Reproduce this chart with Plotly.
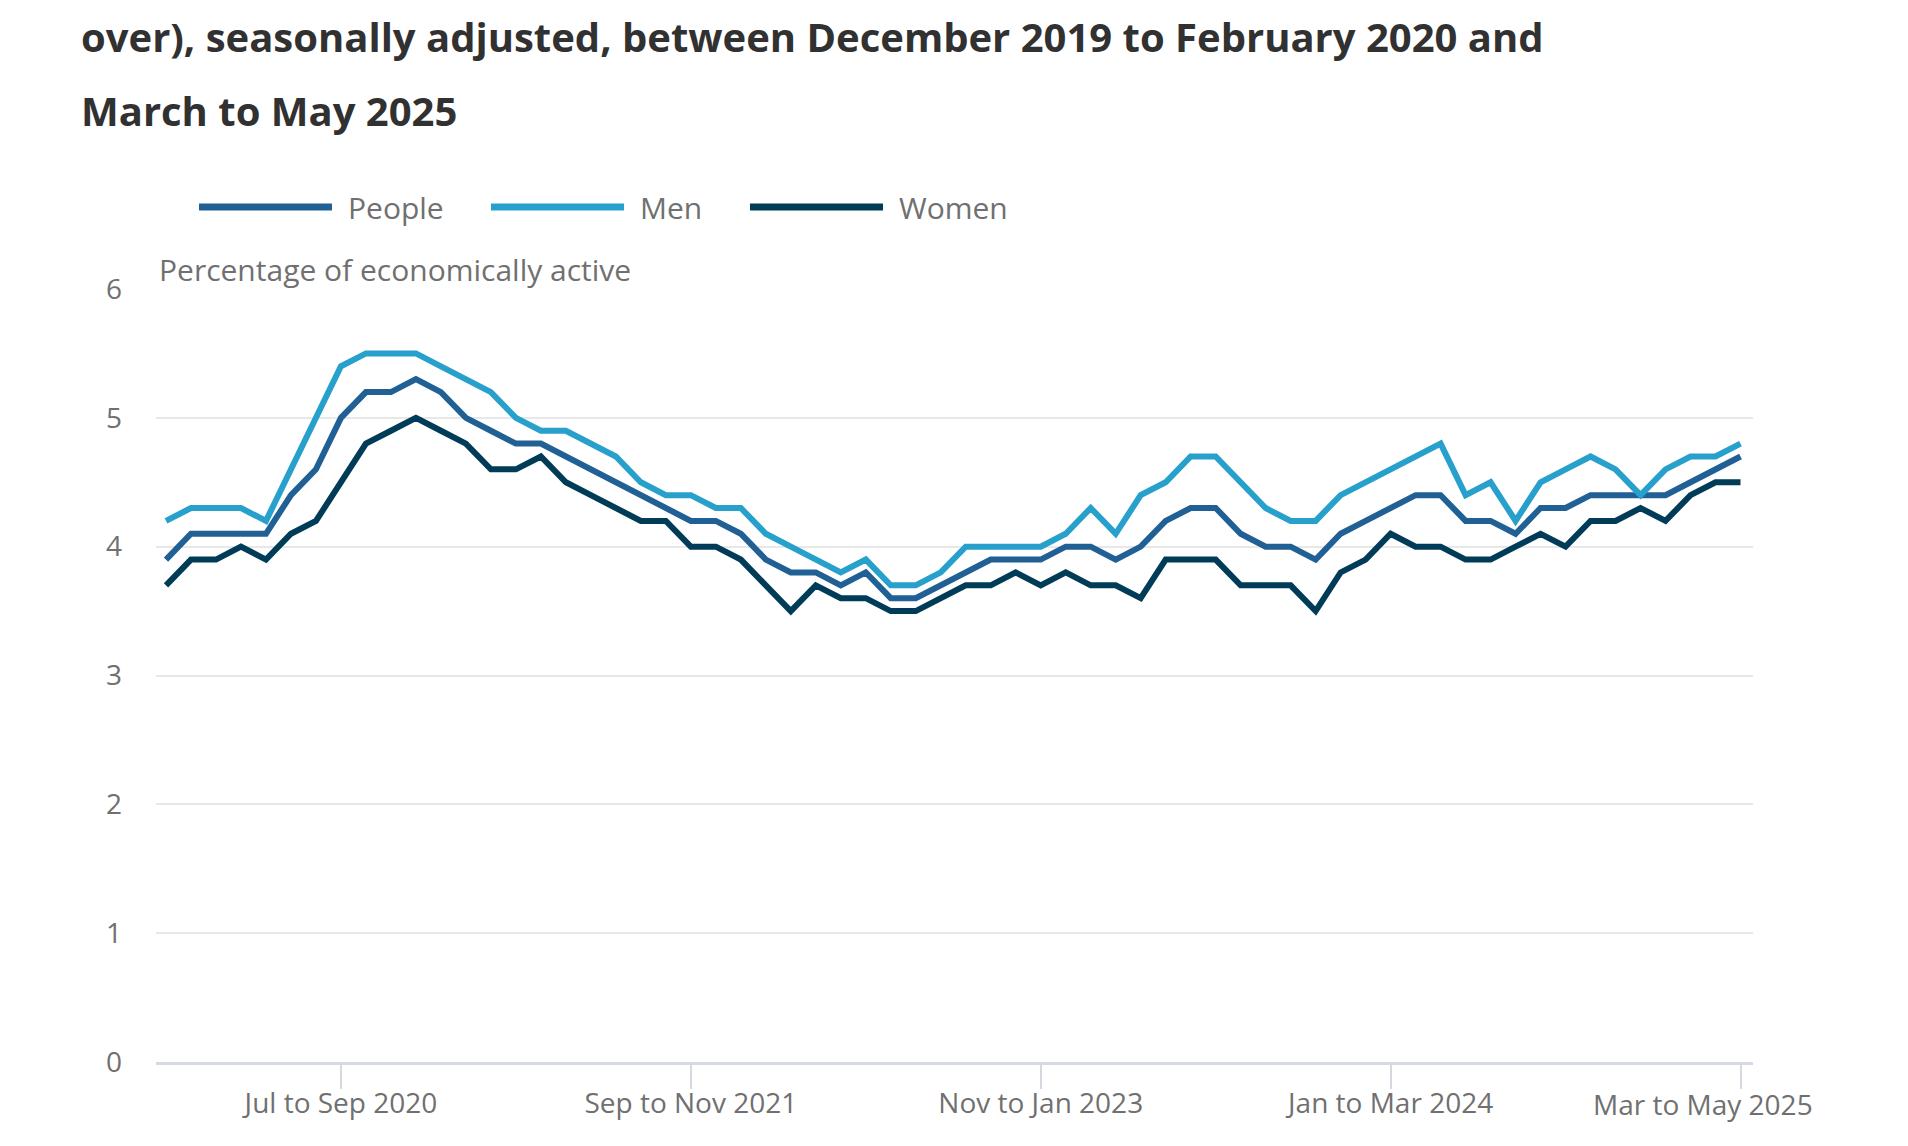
import plotly.graph_objects as go

# rolling three-month periods, Dec to Feb 2020 ... Mar to May 2025
MONTHS = ["Jan", "Feb", "Mar", "Apr", "May", "Jun",
          "Jul", "Aug", "Sep", "Oct", "Nov", "Dec"]
periods = []
for k in range(64):
    end = 1 + k
    periods.append(f"{MONTHS[(end - 2) % 12]} to {MONTHS[end % 12]} {2020 + end // 12}")

tick_labels = ["Jul to Sep 2020", "Sep to Nov 2021", "Nov to Jan 2023",
               "Jan to Mar 2024", "Mar to May 2025"]

people = [3.9, 4.1, 4.1, 4.1, 4.1, 4.4, 4.6, 5.0, 5.2, 5.2, 5.3, 5.2, 5.0, 4.9, 4.8, 4.8, 4.7,
          4.6, 4.5, 4.4, 4.3, 4.2, 4.2, 4.1, 3.9, 3.8, 3.8, 3.7, 3.8, 3.6, 3.6, 3.7,
          3.8, 3.9, 3.9, 3.9, 4.0, 4.0, 3.9, 4.0, 4.2, 4.3, 4.3, 4.1, 4.0, 4.0, 3.9, 4.1,
          4.2, 4.3, 4.4, 4.4, 4.2, 4.2, 4.1, 4.3, 4.3, 4.4, 4.4, 4.4, 4.4, 4.5, 4.6, 4.7]

men = [4.2, 4.3, 4.3, 4.3, 4.2, 4.6, 5.0, 5.4, 5.5, 5.5, 5.5, 5.4, 5.3, 5.2, 5.0, 4.9, 4.9,
       4.8, 4.7, 4.5, 4.4, 4.4, 4.3, 4.3, 4.1, 4.0, 3.9, 3.8, 3.9, 3.7, 3.7, 3.8,
       4.0, 4.0, 4.0, 4.0, 4.1, 4.3, 4.1, 4.4, 4.5, 4.7, 4.7, 4.5, 4.3, 4.2, 4.2, 4.4,
       4.5, 4.6, 4.7, 4.8, 4.4, 4.5, 4.2, 4.5, 4.6, 4.7, 4.6, 4.4, 4.6, 4.7, 4.7, 4.8]

women = [3.7, 3.9, 3.9, 4.0, 3.9, 4.1, 4.2, 4.5, 4.8, 4.9, 5.0, 4.9, 4.8, 4.6, 4.6, 4.7, 4.5,
         4.4, 4.3, 4.2, 4.2, 4.0, 4.0, 3.9, 3.7, 3.5, 3.7, 3.6, 3.6, 3.5, 3.5, 3.6,
         3.7, 3.7, 3.8, 3.7, 3.8, 3.7, 3.7, 3.6, 3.9, 3.9, 3.9, 3.7, 3.7, 3.7, 3.5, 3.8,
         3.9, 4.1, 4.0, 4.0, 3.9, 3.9, 4.0, 4.1, 4.0, 4.2, 4.2, 4.3, 4.2, 4.4, 4.5, 4.5]

series = [("People", people, "#206095"),
          ("Men", men, "#27a0cc"),
          ("Women", women, "#003c57")]

# the page body has an 8px margin, so the figure is drawn 8px in from the corner
OFF = 8
W, H = 1908 - 2 * OFF, 1146 - 2 * OFF
# plot area in page pixels: x 156..1753, y 289..1062
L, T = 156 - OFF, 289 - OFF
R, B = W - (1753 - OFF), H - (1062 - OFF)
FONT = "Open Sans"
GREY = "#707070"


def px_x(x):
    # page pixel -> paper fraction
    return (x - OFF - L) / (W - L - R)


def px_y(y):
    return (H - B - (y - OFF)) / (H - T - B)


fig = go.Figure()
for name, vals, colour in series:
    fig.add_trace(go.Scatter(x=periods, y=vals, mode="lines", name=name,
                             line=dict(color=colour, width=6)))

annotations = [
    dict(text="<b>over), seasonally adjusted, between December 2019 to February 2020 and</b>",
         x=px_x(79), y=px_y(36), font=dict(size=40, color="#323132")),
    dict(text="<b>March to May 2025</b>",
         x=px_x(79), y=px_y(110), font=dict(size=40, color="#323132")),
    dict(text="Percentage of economically active",
         x=px_x(157), y=px_y(270), font=dict(size=30, color=GREY)),
]

# hand-drawn legend with long line keys
shapes = []
legend_items = [(199, 346), (491, 638), (750, 897)]
for (x0, tx), (name, vals, colour) in zip(legend_items, series):
    shapes.append(dict(type="line", xref="paper", yref="paper",
                       x0=px_x(x0), x1=px_x(x0 + 133), y0=px_y(207), y1=px_y(207),
                       line=dict(color=colour, width=7)))
    annotations.append(dict(text=name, x=px_x(tx), y=px_y(208),
                            font=dict(size=30, color=GREY)))

# last tick label is pulled inside the chart edge, as in the original
tick_text = tick_labels[:-1] + [""]
annotations.append(dict(text=tick_labels[-1], x=px_x(1815), y=px_y(1104),
                        font=dict(size=28, color=GREY)))

for a in annotations:
    a.update(xref="paper", yref="paper", xanchor="left", yanchor="middle", showarrow=False)
annotations[-1]["xanchor"] = "right"

fig.update_layout(
    width=W, height=H,
    margin=dict(l=L, r=R, t=T, b=B),
    paper_bgcolor="white", plot_bgcolor="white",
    font=dict(family=FONT, color=GREY),
    showlegend=False,
    annotations=annotations,
    shapes=shapes,
    xaxis=dict(type="category", range=[-0.4, 63.5],
               tickmode="array", tickvals=tick_labels, ticktext=tick_text,
               ticks="outside", ticklen=24, tickwidth=1.5, tickcolor="#d5d8de",
               ticklabelstandoff=-10,
               showline=True, linecolor="#d5d9e3", linewidth=3,
               showgrid=False, zeroline=False,
               tickfont=dict(size=28, color=GREY)),
    yaxis=dict(range=[0, 6], tickvals=[0, 1, 2, 3, 4, 5, 6],
               showgrid=True, gridcolor="#e8e8e8", gridwidth=2,
               zeroline=False, showline=False, ticks="",
               ticklabelstandoff=33,
               tickfont=dict(size=28, color=GREY)),
)

fig.write_html("out.html")
